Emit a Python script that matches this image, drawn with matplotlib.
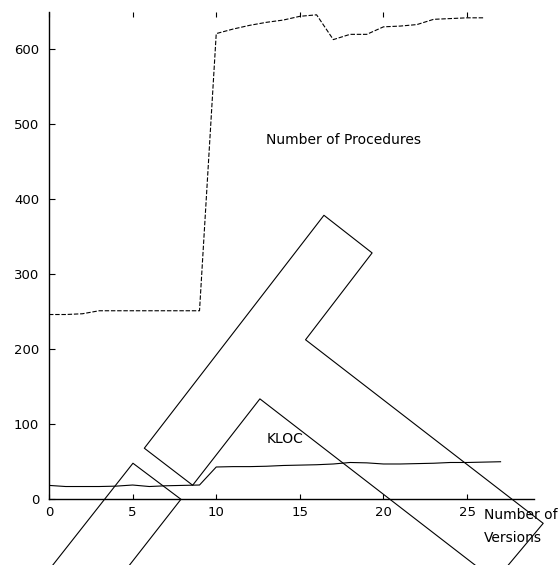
"""
Number of procedures and KLOC per version
"""
import numpy as np
import matplotlib.pyplot as plt

versoes_proc = np.arange(0, 27)
procedimentos = [246, 246, 247, 251, 251, 251, 251, 251, 251, 251,
                 620, 626, 631, 635, 638, 643, 645, 612, 619, 619,
                 629, 630, 632, 639, 640, 641, 641]

versoes_kloc = np.arange(0, 28)
kloc = [18.5, 17, 17, 17, 17.5, 19, 17, 18, 18.5, 19,
        43, 43.5, 43.5, 44, 45, 45.5, 46, 47, 49, 48.5,
        47, 47, 47.5, 48, 49, 49, 49.5, 50]

# contorno das setas desenhadas por cima do grafico (coordenadas de dados)
seta_grande_x = [25.85, 12.61, 8.59, 5.70, 16.44, 19.32, 15.34, 29.55, 27.22]
seta_grande_y = [-94, 133.7, 18.7, 68, 378.1, 328, 212.4, -32, -94]
seta_pequena_x = [0.0, 5.02, 7.89, 4.59]
seta_pequena_y = [-94, 48, 0, -94]

xticks = [0, 5, 10, 15, 20, 25]
yticks = [0, 100, 200, 300, 400, 500, 600]

plt.rcParams['font.family'] = 'DejaVu Sans'
plt.rcParams['font.size'] = 10

fig = plt.figure(figsize=(5.58, 5.65), dpi=100)
ax = fig.add_axes([0.0878, 0.1163, 0.957 - 0.0878, 0.9791 - 0.1163])

ax.plot(versoes_proc, procedimentos, color='black', lw=0.8, dashes=(4, 1.6))
ax.plot(versoes_kloc, kloc, color='black', lw=0.8)

ax.plot(seta_grande_x, seta_grande_y, color='black', lw=0.8, clip_on=False)
ax.plot(seta_pequena_x, seta_pequena_y, color='black', lw=0.8, clip_on=False)

ax.text(13.0, 473, 'Number of Procedures', ha='left', va='baseline')
ax.text(13.0, 75, 'KLOC', ha='left', va='baseline')
ax.text(26.0, -26.7, 'Number of', ha='left', va='baseline', clip_on=False)
ax.text(26.0, -56.5, 'Versions', ha='left', va='baseline', clip_on=False)

ax.set_xlim(0, 29)
ax.set_ylim(0, 649)
ax.set_xticks(xticks)
ax.set_yticks(yticks)

for lado in ['top', 'right']:
    ax.spines[lado].set_visible(False)
for lado in ['left', 'bottom']:
    ax.spines[lado].set_linewidth(1.0)

ax.tick_params(axis='x', direction='in', length=3.5, width=0.8, pad=4.8, top=True,
               labelsize=9.5)
ax.tick_params(axis='y', direction='in', length=4.2, width=0.8, pad=7, labelsize=9.5)

fig.savefig('out.png', dpi=100)
